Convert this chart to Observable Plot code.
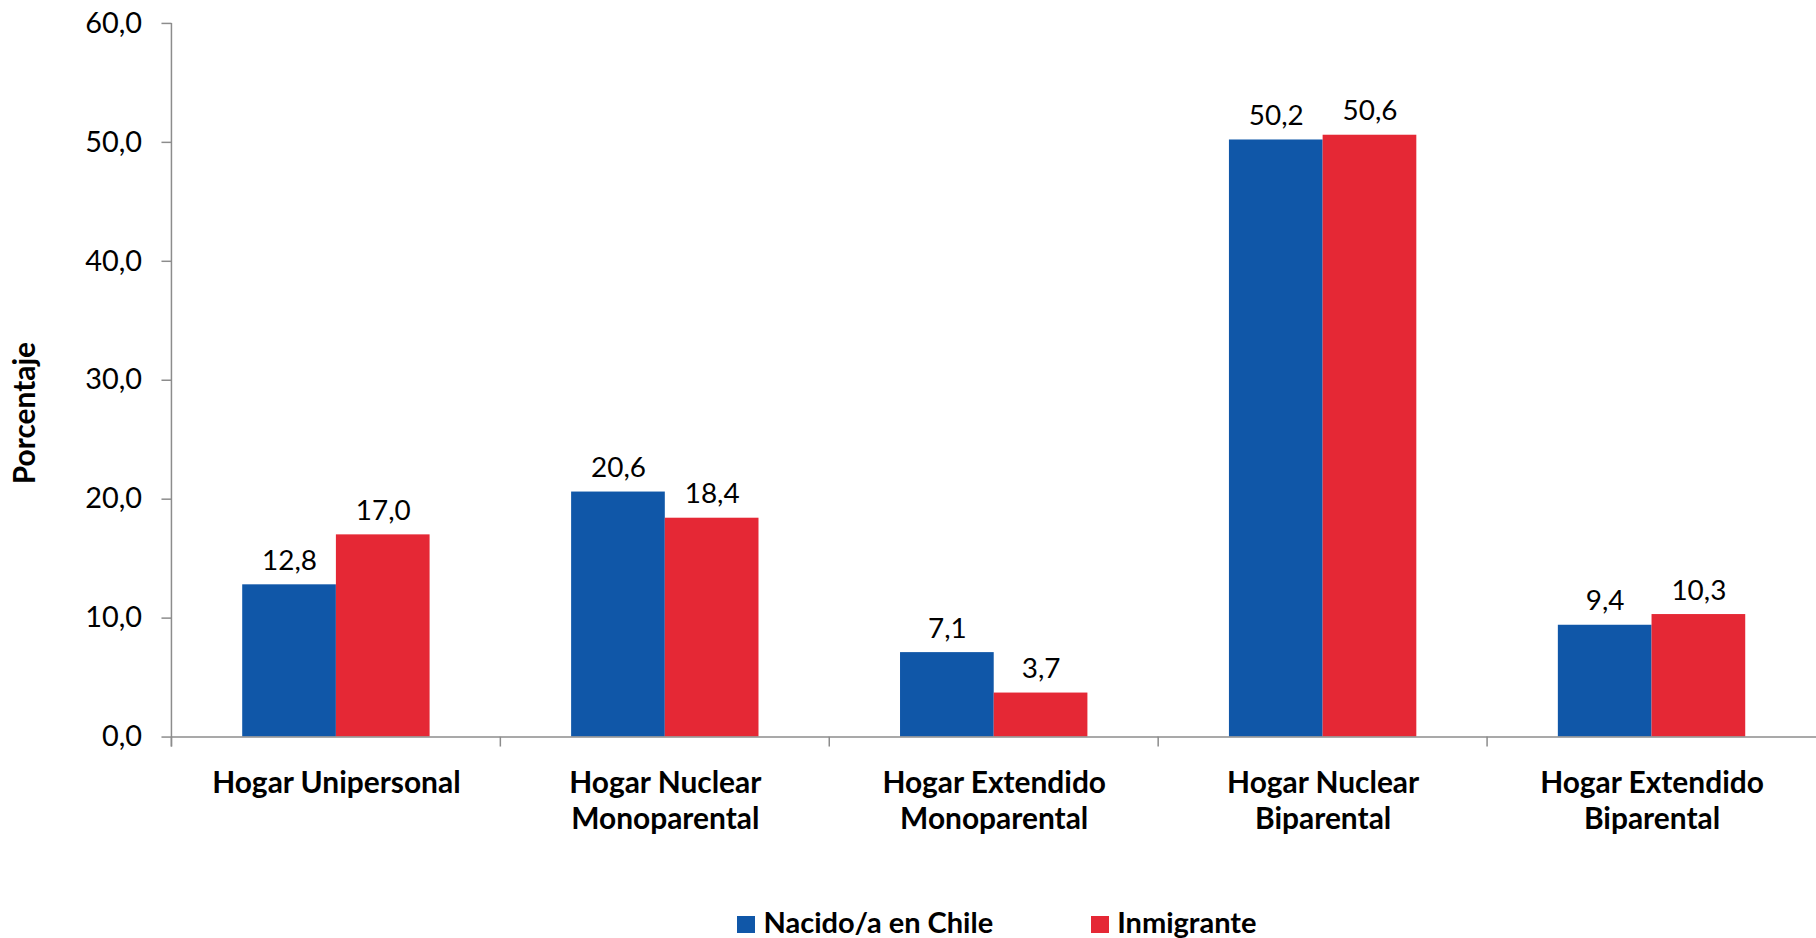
<!DOCTYPE html>
<html>
<head>
<meta charset="utf-8">
<script src="https://cdn.jsdelivr.net/npm/d3@7"></script>
<script src="https://cdn.jsdelivr.net/npm/@observablehq/plot@0.6"></script>
<style>
  html, body { margin: 0; padding: 0; background: #fff; overflow: hidden; width: 1816px; height: 938px; }
  #chart { position: absolute; left: 0; top: 0; }
  #legend { position: absolute; left: 172px; top: 904px; width: 1650px; height: 35px; display: flex; justify-content: center; align-items: center; font-family: Lato, sans-serif; font-weight: bold; font-size: 29px; line-height: 35px; color: #000; }
  .item { display: flex; align-items: center; }
  .sw { width: 18px; height: 17px; margin-right: 8px; margin-top: 6px; }
  .lbl { display: inline-block; white-space: nowrap; }
</style>
</head>
<body>
<div id="chart"></div>
<div id="legend"></div>
<script>
const categories = ["Hogar Unipersonal", "Hogar Nuclear\nMonoparental", "Hogar Extendido\nMonoparental", "Hogar Nuclear\nBiparental", "Hogar Extendido\nBiparental"];
const series = ["Nacido/a en Chile", "Inmigrante"];
const nacido = [12.8, 20.6, 7.1, 50.2, 9.4];
const inmigrante = [17.0, 18.4, 3.7, 50.6, 10.3];
const colors = ["#1057A8", "#E52835"];
const yTicks = [0, 10, 20, 30, 40, 50, 60];
const yTitle = "Porcentaje";

const fmt = v => v.toFixed(1).replace(".", ",");
const data = [];
categories.forEach((c, i) => {
  data.push({cat: c, serie: series[0], value: nacido[i]});
  data.push({cat: c, serie: series[1], value: inmigrante[i]});
});

const axisColor = "#8C8C8C";
const plot = Plot.plot({
  width: 1822,
  height: 880,
  marginLeft: 172,
  marginRight: 0,
  marginTop: 23,
  marginBottom: 141,
  style: {fontFamily: "Lato, sans-serif", background: "#fff", overflow: "visible"},
  fx: {domain: categories, padding: 0, label: null},
  x: {domain: series, paddingInner: 0, paddingOuter: 0.746, axis: null},
  y: {domain: [0, 60], label: null},
  color: {domain: series, range: colors},
  marks: [
    Plot.barY(data, {fx: "cat", x: "serie", y: "value", fill: "serie"}),
    Plot.text(data, {fx: "cat", x: "serie", y: "value", text: d => fmt(d.value), dy: -24, fontSize: 28, fill: "#000"}),
    Plot.ruleY([0], {stroke: axisColor, strokeWidth: 1.5}),
    Plot.axisY({ticks: yTicks, tickFormat: fmt, tickSize: 10, tickPadding: 20, fontSize: 29, stroke: axisColor, strokeWidth: 1.5, fill: "#000", label: null}),
    Plot.axisFx({anchor: "bottom", tickSize: 0, tickPadding: 31, fontSize: 30, fontWeight: "bold", lineHeight: 1.2, fill: "#000", label: null}),
    Plot.text([{cat: categories[0], t: yTitle}], {fx: "cat", text: "t", frameAnchor: "left", textAnchor: "middle", rotate: -90, dx: -147, dy: 33, fontSize: 30, fontWeight: "bold", fill: "#000"})
  ]
});

document.getElementById("chart").appendChild(plot);

// axis line and category boundary ticks drawn from Plot's own scales
const fx = plot.scale("fx");
const y = plot.scale("y");
const svg = d3.select(plot);
const g = svg.append("g").attr("stroke", axisColor).attr("stroke-width", 1.5);
const x0 = fx.apply(categories[0]);
const y0 = y.apply(0);
g.append("line").attr("x1", x0).attr("x2", x0).attr("y1", y.apply(60)).attr("y2", y0 + 10);
categories.forEach(c => {
  const xb = fx.apply(c);
  g.append("line").attr("x1", xb).attr("x2", xb).attr("y1", y0).attr("y2", y0 + 10);
});

// legend
const legend = document.getElementById("legend");
series.forEach((s, i) => {
  const item = document.createElement("div");
  item.className = "item";
  if (i > 0) item.style.marginLeft = "98px";
  const sw = document.createElement("div");
  sw.className = "sw";
  sw.style.background = colors[i];
  const lbl = document.createElement("span");
  lbl.className = "lbl";
  lbl.textContent = s;
  item.appendChild(sw);
  item.appendChild(lbl);
  legend.appendChild(item);
});
</script>
</body>
</html>
